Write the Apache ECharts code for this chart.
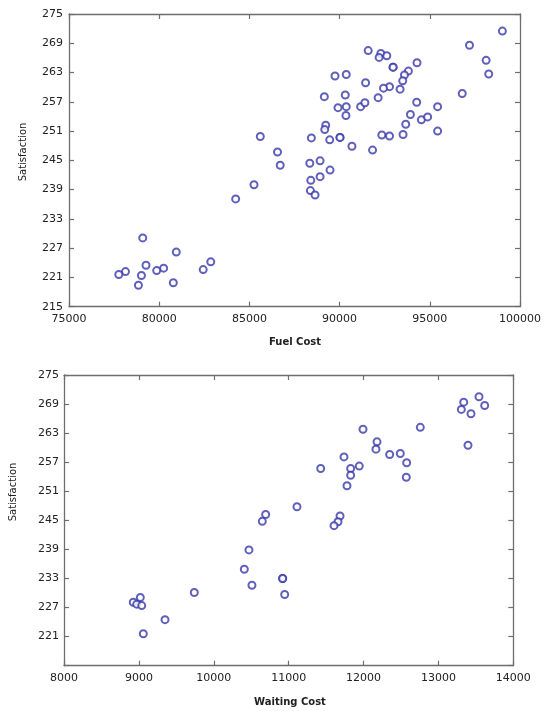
<!DOCTYPE html>
<html>
<head>
<meta charset="utf-8">
<script src="https://cdn.jsdelivr.net/npm/echarts@6/dist/echarts.min.js"></script>
<style>
html,body{margin:0;padding:0;background:#fff;}
#chart{width:544px;height:711px;}
</style>
</head>
<body>
<div id="chart"></div>
<script>
// ---- Data ----
var fuelCost = [99022, 97200, 98122, 98266, 96797, 91584, 92285, 92191, 92616, 92965, 92965,
  94290, 93815, 93594, 93500, 93351, 92766, 92434, 92136, 91440, 89745, 90369, 89154, 90314,
  89911, 90369, 90352, 91164, 91401, 94273, 95433, 93925, 94533, 94881, 93666, 95433, 93517,
  92341, 92766, 91827, 90684, 90022, 90022, 89452, 89231, 89176, 88436, 85604, 86558, 86708,
  88348, 88917, 89470, 88403, 88917, 88381, 88640, 85255, 84239, 79087, 80947, 82858, 82439,
  79269, 80246, 79860, 78131, 77761, 79015, 78849, 80782];
var fuelSatisfaction = [271.5, 268.6, 265.5, 262.7, 258.7, 267.5, 266.9, 266.1, 266.45, 264.1, 264.1,
  265.0, 263.3, 262.5, 261.3, 259.6, 260.1, 259.8, 257.85, 260.9, 262.3, 262.6, 258.05, 258.4,
  255.8, 256.0, 254.2, 256.0, 256.8, 256.9, 256.0, 254.4, 253.3, 253.9, 252.4, 251.0, 250.3,
  250.2, 250.0, 247.1, 247.9, 249.7, 249.7, 249.2, 252.2, 251.3, 249.6, 249.9, 246.7, 244.0,
  244.4, 244.9, 243.0, 240.9, 241.65, 238.8, 237.9, 240.0, 237.1, 229.1, 226.2, 224.2, 222.6,
  223.5, 222.9, 222.4, 222.2, 221.6, 221.4, 219.4, 219.9];

var waitingCost = [13542, 13338, 13618, 13306, 13435, 13395, 12758, 11993, 12180, 12166, 12349,
  12491, 12576, 12571, 11739, 11828, 11943, 11828, 11779, 11428, 11111, 10693, 10648, 11686,
  11659, 11606, 10470, 10408, 10510, 10920, 10920, 10947, 9740, 9019, 8925, 8971, 9038, 9349, 9059];
var waitingSatisfaction = [270.5, 269.4, 268.7, 267.9, 267.0, 260.5, 264.2, 263.8, 261.2, 259.7, 258.6,
  258.8, 256.9, 253.9, 258.1, 255.7, 256.2, 254.3, 252.15, 255.7, 247.8, 246.2, 244.8, 245.9,
  244.7, 243.9, 238.9, 234.9, 231.6, 233.0, 233.0, 229.7, 230.1, 229.1, 228.1, 227.7, 227.4, 224.5, 221.6];

var satTicks = [215, 221, 227, 233, 239, 245, 251, 257, 263, 269, 275];
var satLabels1 = [215, 221, 227, 233, 239, 245, 251, 257, 263, 269, 275];
var satLabels2 = [221, 227, 233, 239, 245, 251, 257, 263, 269, 275];
var fuelRange = [75000, 100000, 5000];
var waitRange = [8000, 14000, 1000];
var satRange = [215, 275];

var titles = {x1: 'Fuel Cost', x2: 'Waiting Cost', y: 'Satisfaction'};

// ---- Styles ----
var frameColor = '#6e6e6e';
var markColor = '#3838aa';
var labelFont = {color: '#222', fontSize: 11, fontFamily: 'DejaVu Sans'};
function plain(v) { return String(v); }

function xAx(grid, range, pos, showLabel) {
  return {
    type: 'value', gridIndex: grid, position: pos,
    min: range[0], max: range[1], interval: range[2],
    axisLine: {show: true, onZero: false, lineStyle: {color: frameColor, width: 1.3}},
    axisTick: {show: true, inside: true, length: 5, lineStyle: {color: frameColor, width: 1.2}},
    axisLabel: Object.assign({show: showLabel, margin: 7, formatter: plain}, labelFont),
    splitLine: {show: false}
  };
}
function yAx(grid, pos, labels, showLabel, margin) {
  return {
    type: 'value', gridIndex: grid, position: pos,
    min: satRange[0], max: satRange[1],
    axisLine: {show: true, onZero: false, lineStyle: {color: frameColor, width: 1.3}},
    axisTick: {show: true, inside: true, length: 5, customValues: satTicks, lineStyle: {color: frameColor, width: 1.2}},
    axisLabel: Object.assign({show: showLabel, margin: margin, customValues: labels, formatter: plain}, labelFont),
    splitLine: {show: false}
  };
}

function pairs(xs, ys) { return xs.map(function (v, i) { return [v, ys[i]]; }); }

var chart = echarts.init(document.getElementById('chart'), null, {renderer: 'canvas'});
chart.setOption({
  backgroundColor: '#fff',
  animation: false,
  grid: [
    {left: 69, top: 14, width: 452.7, height: 292.7},
    {left: 64, top: 375, width: 449.3, height: 290.7}
  ],
  xAxis: [
    xAx(0, fuelRange, 'bottom', true),
    xAx(0, fuelRange, 'top', false),
    xAx(1, waitRange, 'bottom', true),
    xAx(1, waitRange, 'top', false)
  ],
  yAxis: [
    yAx(0, 'left', satLabels1, true, 6),
    yAx(0, 'right', satLabels1, false, 6),
    yAx(1, 'left', satLabels2, true, 5),
    yAx(1, 'right', satLabels2, false, 5)
  ],
  graphic: [
    {type: 'text', x: 295, y: 342, style: {text: titles.x1, fill: '#222', font: 'bold 10px "DejaVu Sans"', align: 'center', verticalAlign: 'middle'}},
    {type: 'text', x: 290, y: 702, style: {text: titles.x2, fill: '#222', font: 'bold 10px "DejaVu Sans"', align: 'center', verticalAlign: 'middle'}},
    {type: 'text', x: 23, y: 152, rotation: Math.PI / 2, style: {text: titles.y, fill: '#222', font: '10px "DejaVu Sans"', align: 'center', verticalAlign: 'middle'}},
    {type: 'text', x: 13, y: 492, rotation: Math.PI / 2, style: {text: titles.y, fill: '#222', font: '10px "DejaVu Sans"', align: 'center', verticalAlign: 'middle'}}
  ],
  series: [
    {type: 'scatter', xAxisIndex: 0, yAxisIndex: 0, symbol: 'emptyCircle', symbolSize: 7,
     itemStyle: {color: markColor, borderWidth: 1.1}, data: pairs(fuelCost, fuelSatisfaction)},
    {type: 'scatter', xAxisIndex: 2, yAxisIndex: 2, symbol: 'emptyCircle', symbolSize: 7,
     itemStyle: {color: markColor, borderWidth: 1.1}, data: pairs(waitingCost, waitingSatisfaction)}
  ]
});
</script>
</body>
</html>
